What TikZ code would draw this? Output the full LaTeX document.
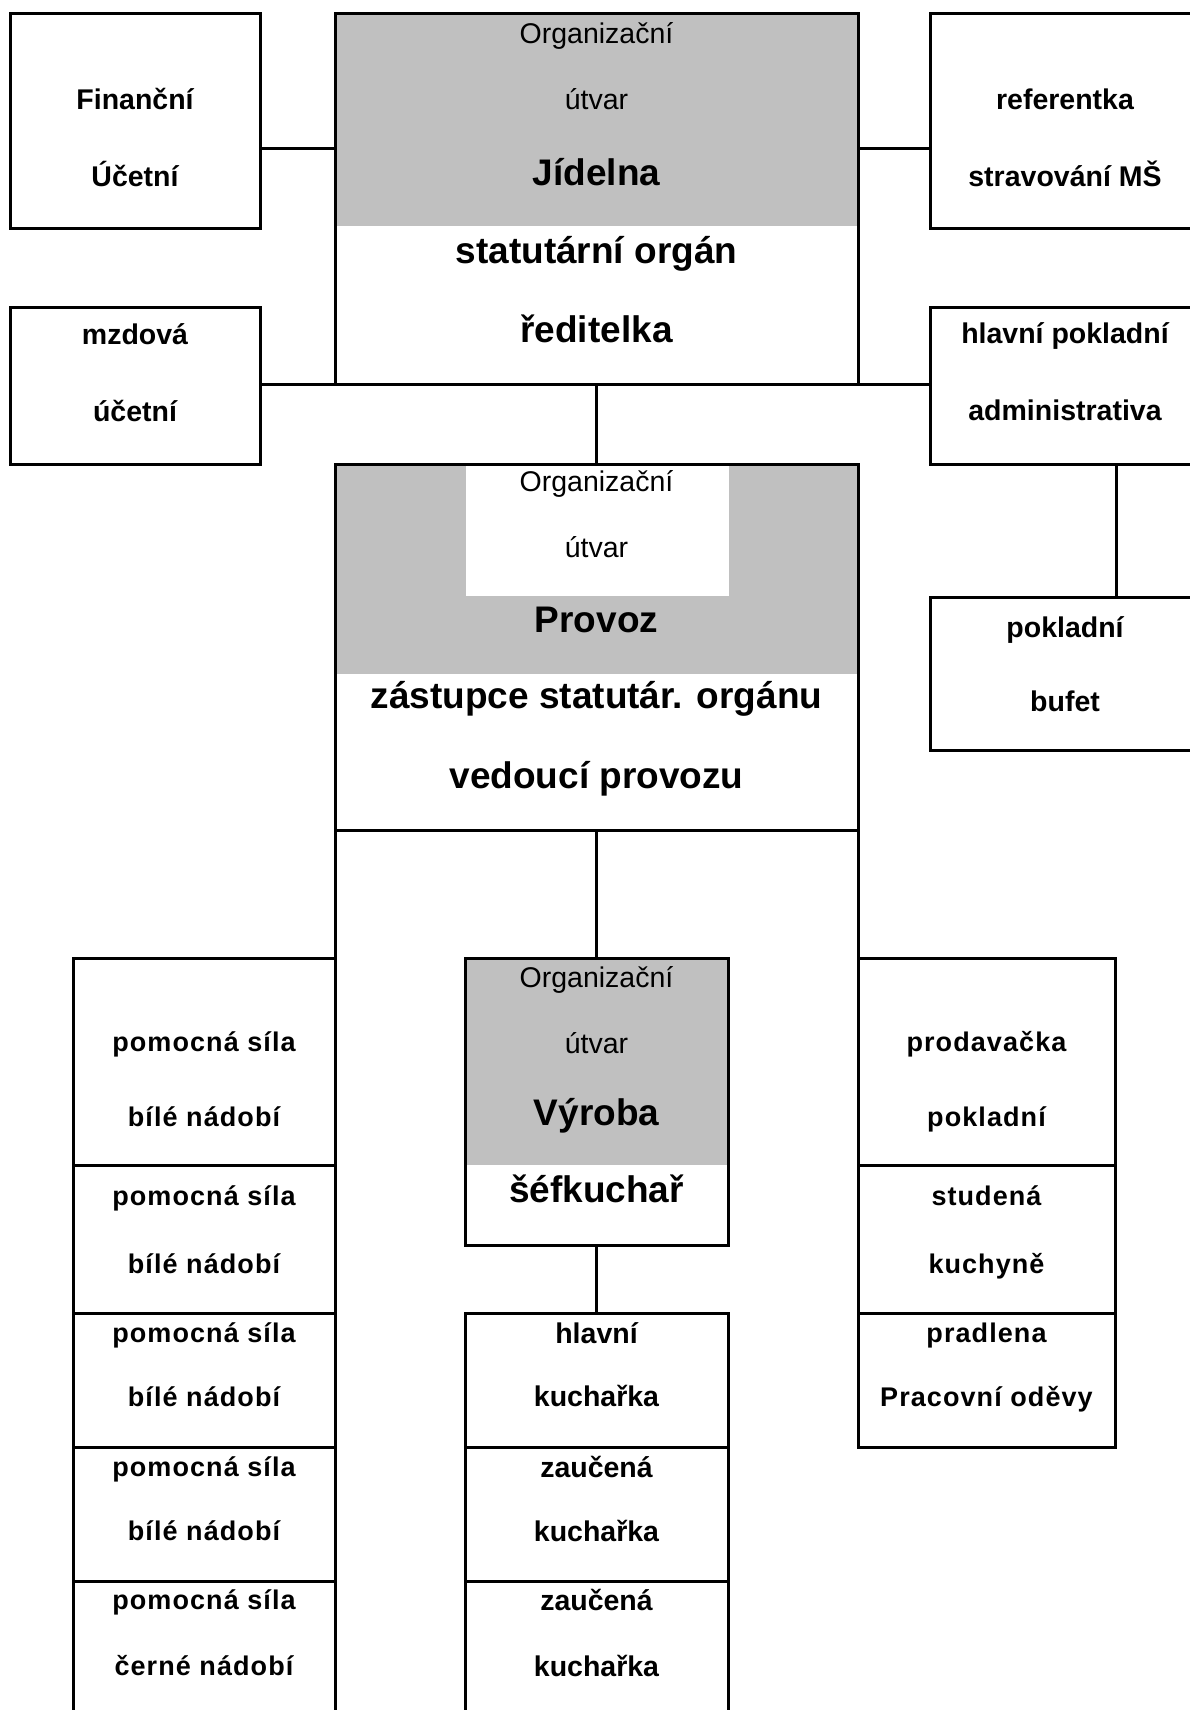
\documentclass[tikz,border=0pt]{standalone}
\usepackage{fontspec}
\setmainfont{Liberation Sans}
\definecolor{silver}{HTML}{C0C0C0}
\tikzset{
  box/.style={draw, line width=3pt, inner sep=0pt, outer sep=0pt, anchor=north west},
  wire/.style={line width=3pt},
  small/.style={inner sep=0pt, anchor=base, yshift=-10pt, font=\fontsize{28.5}{30}\selectfont},
  mid/.style={inner sep=0pt, anchor=base, yshift=-10.2pt, font=\fontsize{28.5}{30}\selectfont\bfseries},
  big/.style={inner sep=0pt, anchor=base, yshift=-13.2pt, font=\fontsize{37}{40}\selectfont\bfseries},
  wide/.style={inner sep=0pt, anchor=base, yshift=-9.7pt, font=\fontsize{27}{29}\selectfont\bfseries\addfontfeature{LetterSpace=4}},
}
\begin{document}
\begin{tikzpicture}[x=1pt,y=-1pt]
\useasboundingbox (0,0) rectangle (1189,1710);
% grey fills
\fill[silver] (335,14) rectangle (858,226);
\fill[silver] (335,464) rectangle (858,674);
\fill[white] (466,464) rectangle (729,596);
\fill[silver] (465,958) rectangle (728,1165);
% top level boxes
\node[box, minimum width=250pt, minimum height=214pt] (fin) at (10,14) {};
\node[box, minimum width=523pt, minimum height=370pt] (jid) at (335,14) {};
\node[box, minimum width=270pt, minimum height=214pt] (ref) at (930,14) {};
\node[box, minimum width=250pt, minimum height=157pt] (mzd) at (10,307) {};
\node[box, minimum width=270pt, minimum height=157pt] (hlav) at (930,307) {};
\node[box, minimum width=270pt, minimum height=153pt] (buf) at (930,597) {};
\node[box, minimum width=523pt, minimum height=366pt] (prov) at (335,464) {};
% left column
\node[box, minimum width=262pt, minimum height=207pt] (L1) at (73,958) {};
\node[box, minimum width=262pt, minimum height=148pt] (L2) at (73,1165) {};
\node[box, minimum width=262pt, minimum height=134pt] (L3) at (73,1313) {};
\node[box, minimum width=262pt, minimum height=134pt] (L4) at (73,1447) {};
\node[box, minimum width=262pt, minimum height=139pt] (L5) at (73,1581) {};
% middle column
\node[box, minimum width=263pt, minimum height=287pt] (vyr) at (465,958) {};
\node[box, minimum width=263pt, minimum height=134pt] (M1) at (465,1313) {};
\node[box, minimum width=263pt, minimum height=134pt] (M2) at (465,1447) {};
\node[box, minimum width=263pt, minimum height=139pt] (M3) at (465,1581) {};
% right column
\node[box, minimum width=257pt, minimum height=207pt] (R1) at (858,958) {};
\node[box, minimum width=257pt, minimum height=148pt] (R2) at (858,1165) {};
\node[box, minimum width=257pt, minimum height=134pt] (R3) at (858,1313) {};
% connectors
\coordinate (cy) at (0,148);
\coordinate (cx) at (1116,0);
\draw[wire] (fin.east |- cy) -- (jid.west |- cy);
\draw[wire] (jid.east |- cy) -- (ref.west |- cy);
\draw[wire] (mzd.east |- jid.south) -- (hlav.west |- jid.south);
\draw[wire] (jid.south) -- (prov.north);
\draw[wire] (hlav.south -| cx) -- (buf.north -| cx);
\draw[wire] (prov.south) -- (vyr.north);
\draw[wire] (prov.south west) -- (L1.north east);
\draw[wire] (prov.south east) -- (R1.north west);
\draw[wire] (vyr.south) -- (M1.north);
% texts top
\node[mid] (t1) at (135,99) {Finanční};
\node[mid] (t2) at (135,176) {Účetní};
\node[small] (t3) at (596.5,34) {Organizační};
\node[small] (t4) at (596.5,99) {útvar};
\node[big] (t5) at (596.5,172) {Jídelna};
\node[big] (t6) at (596.5,250) {statutární orgán};
\node[big] (t7) at (596.5,329) {ředitelka};
\node[mid] (t8) at (1065,99) {referentka};
\node[mid] (t9) at (1065,176) {stravování MŠ};
\node[mid] (t10) at (135,334) {mzdová};
\node[mid] (t11) at (135,411) {účetní};
\node[mid] (t12) at (1065,333) {hlavní pokladní};
\node[mid] (t13) at (1065,410) {administrativa};
\node[mid] (t14) at (1065,627) {pokladní};
\node[mid] (t15) at (1065,701) {bufet};
% Provoz
\node[small] (t16) at (596.5,481) {Organizační};
\node[small] (t17) at (596.5,547) {útvar};
\node[big] (t18) at (596.5,619) {Provoz};
\node[big] (t19) at (596.5,695) {zástupce statutár. orgánu};
\node[big] (t20) at (596.5,775) {vedoucí provozu};
% left column texts
\node[wide] (t21) at (204,1042) {pomocná síla};
\node[wide] (t22) at (204,1117) {bílé nádobí};
\node[wide] (t23) at (204,1196) {pomocná síla};
\node[wide] (t24) at (204,1264) {bílé nádobí};
\node[wide] (t25) at (204,1333) {pomocná síla};
\node[wide] (t26) at (204,1397) {bílé nádobí};
\node[wide] (t27) at (204,1467) {pomocná síla};
\node[wide] (t28) at (204,1531) {bílé nádobí};
\node[wide] (t29) at (204,1600) {pomocná síla};
\node[wide] (t30) at (204,1666) {černé nádobí};
% Vyroba and middle column
\node[small] (t31) at (596.5,977) {Organizační};
\node[small] (t32) at (596.5,1043) {útvar};
\node[big] (t33) at (596.5,1112) {Výroba};
\node[big] (t34) at (596.5,1189) {šéfkuchař};
\node[mid] (t35) at (596.5,1333) {hlavní};
\node[mid] (t36) at (596.5,1396) {kuchařka};
\node[mid] (t37) at (596.5,1467) {zaučená};
\node[mid] (t38) at (596.5,1531) {kuchařka};
\node[mid] (t39) at (596.5,1600) {zaučená};
\node[mid] (t40) at (596.5,1666) {kuchařka};
% right column texts
\node[wide] (t41) at (986.5,1042) {prodavačka};
\node[wide] (t42) at (986.5,1117) {pokladní};
\node[wide] (t43) at (986.5,1196) {studená};
\node[wide] (t44) at (986.5,1264) {kuchyně};
\node[wide] (t45) at (986.5,1333) {pradlena};
\node[wide] (t46) at (986.5,1397) {Pracovní oděvy};
\end{tikzpicture}
\end{document}
